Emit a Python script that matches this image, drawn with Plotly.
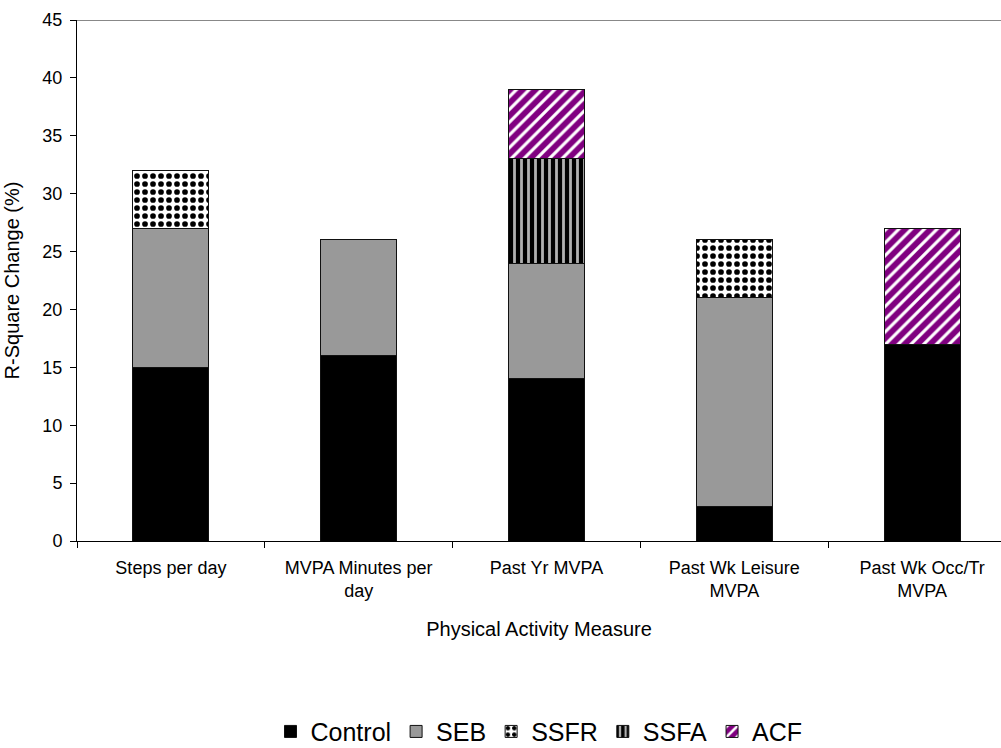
import plotly.graph_objects as go

categories = ["Steps per day", "MVPA Minutes per<br>day", "Past Yr MVPA",
              "Past Wk Leisure<br>MVPA", "Past Wk Occ/Tr<br>MVPA"]
control = [15, 16, 14, 3, 17]
seb = [12, 10, 10, 18, None]
ssfr = [5, None, None, 5, None]
ssfa = [None, None, 9, None, None]
acf = [None, None, 6, None, 10]
y_ticks = [0, 5, 10, 15, 20, 25, 30, 35, 40, 45]

fig = go.Figure()
line = dict(color="#111111", width=1)
fig.add_trace(go.Bar(name="Control", x=categories, y=control,
                     marker=dict(color="black", line=line)))
fig.add_trace(go.Bar(name="SEB", x=categories, y=seb,
                     marker=dict(color="#999999", line=line)))
fig.add_trace(go.Bar(name="SSFR", x=categories, y=ssfr,
                     marker=dict(color="white", line=line,
                                 pattern=dict(shape=".", fgcolor="black", bgcolor="white",
                                              size=8, solidity=0.4, fillmode="replace"))))
fig.add_trace(go.Bar(name="SSFA", x=categories, y=ssfa,
                     marker=dict(color="black", line=line,
                                 pattern=dict(shape="|", fgcolor="#b0b0b0", bgcolor="black",
                                              size=7, solidity=0.4, fillmode="replace"))))
fig.add_trace(go.Bar(name="ACF", x=categories, y=acf,
                     marker=dict(color="#800080", line=line,
                                 pattern=dict(shape="/", fgcolor="white", bgcolor="#800080",
                                              size=9, solidity=0.35, fillmode="replace"))))

fig.update_layout(
    barmode="stack",
    bargap=0.595,
    width=1001, height=748,
    margin=dict(l=77, r=0, t=20, b=207, autoexpand=False),
    plot_bgcolor="white", paper_bgcolor="white",
    font=dict(family="Liberation Sans, Arial, sans-serif", size=18, color="black"),
    legend=dict(orientation="h", x=0.5, xanchor="center", y=-0.366, yanchor="middle",
                font=dict(size=25), traceorder="normal"),
    xaxis=dict(range=[-0.5, 4.42], showline=True, linecolor="black", linewidth=1,
               ticks="outside", tickson="boundaries", ticklen=6, tickcolor="black",
               ticklabelstandoff=10,
               title=dict(text="Physical Activity Measure", font=dict(size=20), standoff=21),
               tickfont=dict(size=18)),
    yaxis=dict(range=[0, 45], tickvals=y_ticks, showline=True, linecolor="black",
               linewidth=1, ticks="outside", ticklen=6, tickcolor="black",
               ticklabelstandoff=4,
               showgrid=False, zeroline=False,
               title=dict(text="R-Square Change (%)", font=dict(size=20), standoff=17),
               tickfont=dict(size=18)),
    shapes=[dict(type="line", xref="paper", yref="y", x0=0, x1=1, y0=45, y1=45,
                 line=dict(color="#888888", width=2))],
)

fig.write_html("out.html", config={"displayModeBar": False},
               post_script="document.body.style.margin='0';")
